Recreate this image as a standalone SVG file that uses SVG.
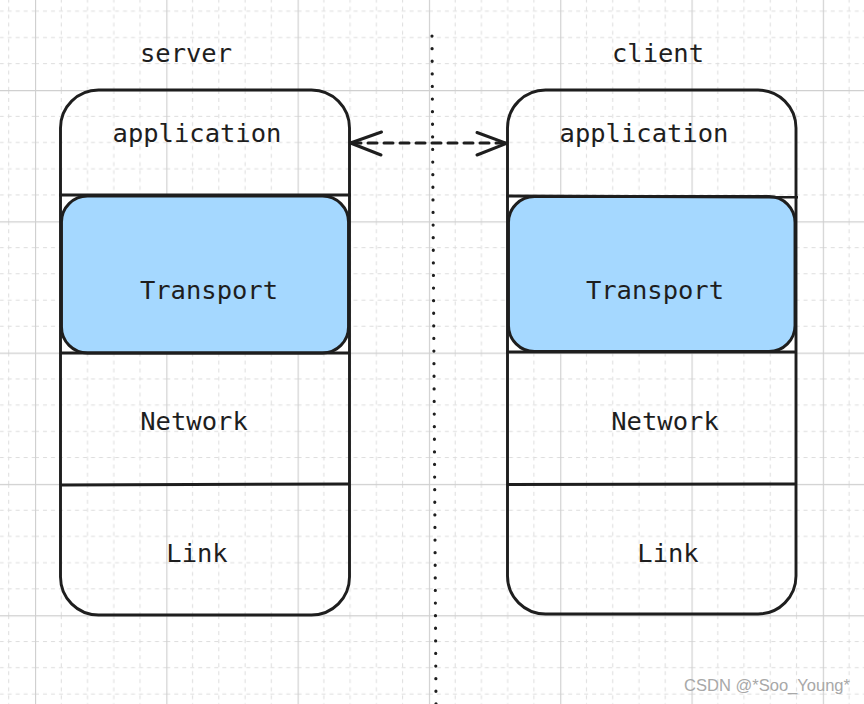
<svg xmlns="http://www.w3.org/2000/svg" width="864" height="704" viewBox="0 0 864 704">
<defs>
<pattern id="grid" patternUnits="userSpaceOnUse" x="35" y="90" width="131.3" height="131.3">
<g stroke="#dddddd" stroke-width="1" stroke-dasharray="4 4" fill="none">
<line x1="26.26" y1="0" x2="26.26" y2="131.3"/>
<line x1="52.52" y1="0" x2="52.52" y2="131.3"/>
<line x1="78.78" y1="0" x2="78.78" y2="131.3"/>
<line x1="105.04" y1="0" x2="105.04" y2="131.3"/>
<line y1="26.26" x1="0" y2="26.26" x2="131.3"/>
<line y1="52.52" x1="0" y2="52.52" x2="131.3"/>
<line y1="78.78" x1="0" y2="78.78" x2="131.3"/>
<line y1="105.04" x1="0" y2="105.04" x2="131.3"/>
</g>
<g stroke="#d0d0d0" stroke-width="1.3" fill="none">
<line x1="0.5" y1="0" x2="0.5" y2="131.3"/>
<line x1="0" y1="0.5" x2="131.3" y2="0.5"/>
</g>
</pattern>
<style>
.box{fill:none;stroke:#1e1e1e;stroke-width:2.9}
.tp{fill:#a5d8ff;stroke:#1e1e1e;stroke-width:2.9}
.div{stroke:#1e1e1e;stroke-width:3;fill:none}
.lbl{font-family:"DejaVu Sans Mono","Liberation Mono",monospace;font-size:25.5px;fill:#1e1e1e;text-anchor:middle}
.arr{fill:none;stroke:#1e1e1e;stroke-width:3;stroke-linecap:round;stroke-linejoin:round}
</style>
</defs>
<rect width="864" height="704" fill="#ffffff"/>
<rect width="864" height="704" fill="url(#grid)"/>

<g id="server-title"><text class="lbl" x="186" y="62">server</text></g>
<g id="client-title"><text class="lbl" x="658" y="62">client</text></g>

<g id="server-stack">
<rect class="box" x="60.5" y="90" width="289" height="525" rx="38"/>
<rect class="tp" x="61.5" y="196" width="287" height="157" rx="26"/>
<line class="div" x1="59" y1="195" x2="351" y2="195"/>
<line class="div" x1="60" y1="353" x2="350" y2="353"/>
<line class="div" x1="61" y1="485" x2="349" y2="484"/>
</g>
<g id="server-application"><text class="lbl" x="197" y="142">application</text></g>
<g id="server-transport"><text class="lbl" x="209" y="299">Transport</text></g>
<g id="server-network"><text class="lbl" x="194" y="430">Network</text></g>
<g id="server-link"><text class="lbl" x="197" y="562">Link</text></g>

<g id="client-stack">
<rect class="box" x="507.5" y="90" width="288.5" height="524" rx="38"/>
<rect class="tp" x="508.5" y="196.5" width="286.5" height="155" rx="26"/>
<line class="div" x1="506" y1="196" x2="798" y2="197"/>
<line class="div" x1="506" y1="352" x2="797" y2="352"/>
<line class="div" x1="507" y1="484.5" x2="796" y2="484"/>
</g>
<g id="client-application"><text class="lbl" x="644" y="142">application</text></g>
<g id="client-transport"><text class="lbl" x="655" y="299">Transport</text></g>
<g id="client-network"><text class="lbl" x="665" y="430">Network</text></g>
<g id="client-link"><text class="lbl" x="668" y="562">Link</text></g>

<g id="connectors">
<line x1="432" y1="36" x2="436" y2="704" stroke="#1e1e1e" stroke-width="3.2" stroke-linecap="round" stroke-dasharray="0.1 12.5"/>
<line class="arr" x1="352" y1="143" x2="505" y2="143" stroke-dasharray="9 7"/>
<polyline class="arr" points="381.5,132 350.5,143 381,155"/>
<polyline class="arr" points="477,132.5 506.5,143.3 477,155"/>
</g>

<text x="684" y="691" font-family="Liberation Sans, Arial, sans-serif" font-size="16" fill="#a8a8a8" textLength="166" lengthAdjust="spacingAndGlyphs">CSDN @*Soo_Young*</text>
</svg>
